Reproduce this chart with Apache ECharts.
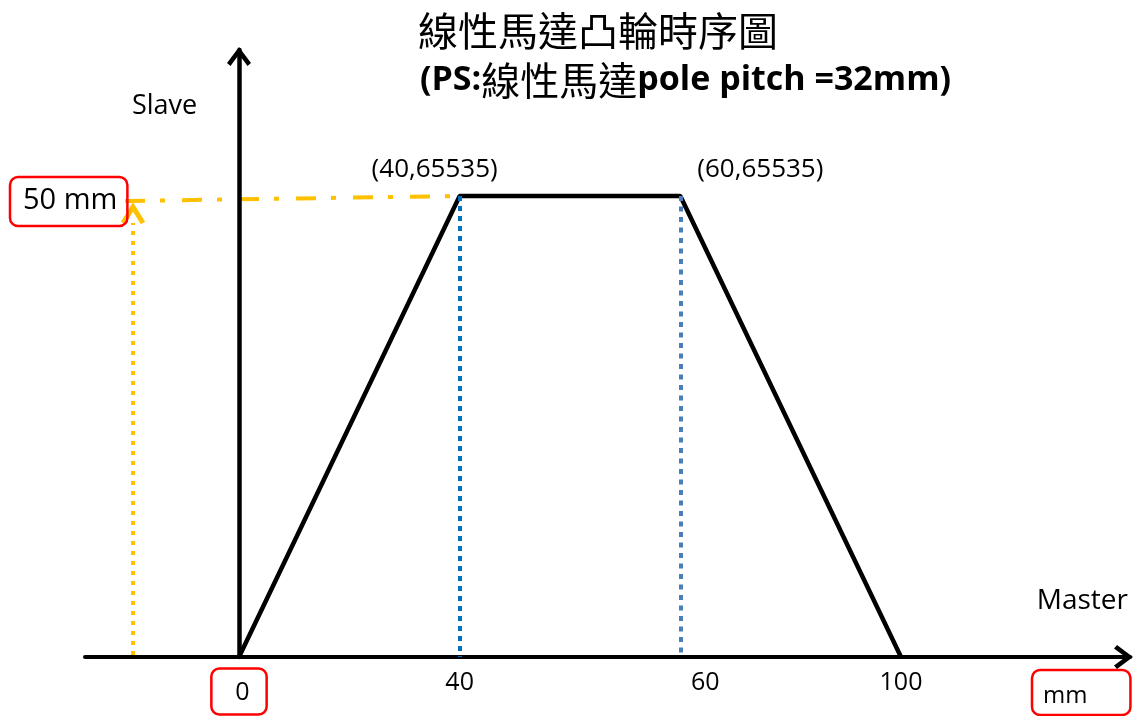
<!DOCTYPE html>
<html><head><meta charset="utf-8">
<script src="https://cdn.jsdelivr.net/npm/echarts@6/dist/echarts.min.js"></script>
<style>html,body{margin:0;padding:0;background:#fff}#c{width:1136px;height:716px}</style>
</head><body><div id="c"></div>
<script>
// ---- data ----
const masterTicks = ['0', '40', '60', '100'];
const slaveValues = [0, 65535, 65535, 0];
const labeledPoints = [1, 2];
const titleText = '線性馬達凸輪時序圖';
const subtitleParts = ['(PS:', '線性馬達', 'pole pitch =32mm)'];
const slaveName = 'Slave';
const masterName = 'Master';
const slaveUnit = '50 mm';
const masterUnit = 'mm';

// ---- style ----
const FONT = '"Open Sans", sans-serif';
const CJK = '"Noto Sans CJK TC", sans-serif';
const chevron = 'path://M12,0 L24,16 L20.5,19 L12,7.5 L3.5,19 L0,16 Z';
const Y_MAX = 86290;

const chart = echarts.init(document.getElementById('c'), null, {renderer: 'canvas'});

const axisArrow = {
  symbol: ['none', chevron],
  symbolSize: [24, 19],
  symbolOffset: [0, -6.5]
};

chart.setOption({
  animation: false,
  backgroundColor: '#fff',
  title: [
    {text: titleText, left: 418, top: 9, padding: 0,
     textStyle: {fontFamily: CJK, fontSize: 40, fontWeight: 'normal', color: '#000', lineHeight: 44}},
    {text: '{a|' + subtitleParts[0] + '}{b|' + subtitleParts[1] + '}{a|' + subtitleParts[2] + '}',
     left: 420, top: 58, padding: 0,
     textStyle: {rich: {
       a: {fontFamily: FONT, fontSize: 34, fontWeight: 'bold', color: '#000', lineHeight: 44},
       b: {fontFamily: CJK, fontSize: 39, fontWeight: 'normal', color: '#000', lineHeight: 44}
     }}}
  ],
  grid: [
    {left: 239, right: 235, top: 50, bottom: 59},
    {left: 85, right: 6, top: 50, bottom: 59}
  ],
  xAxis: [
    {type: 'category', gridIndex: 0, data: masterTicks, boundaryGap: false,
     axisLine: {show: false}, axisTick: {show: false}, splitLine: {show: false},
     axisLabel: {margin: 13, fontSize: 25, fontFamily: FONT, color: '#000',
       formatter: (v, i) => i === 0 ? '{sp| }\n{box|' + v + '}'
                         : (i === 2 ? '{sh|' + v + '}' : '{p|' + v + '}'),
       rich: {
         sp: {fontSize: 1, lineHeight: 9},
         box: {fontSize: 25, fontFamily: FONT, color: '#000', lineHeight: 25,
               borderColor: '#FF0000', borderWidth: 2.5, borderRadius: 8, padding: [12, 17, 9, 24]},
         p: {fontSize: 25, fontFamily: FONT, color: '#000', lineHeight: 25},
         sh: {fontSize: 25, fontFamily: FONT, color: '#000', lineHeight: 25, padding: [0, 0, 0, 50]}
       }}},
    {type: 'value', gridIndex: 1, min: 0, max: 1,
     axisLine: Object.assign({show: true, onZero: false, lineStyle: {color: '#000', width: 4}}, axisArrow),
     axisTick: {show: false}, axisLabel: {show: false}, splitLine: {show: false}}
  ],
  yAxis: [
    {type: 'value', gridIndex: 0, min: 0, max: Y_MAX,
     axisLine: Object.assign({show: true, lineStyle: {color: '#000', width: 4.5}}, axisArrow),
     axisTick: {show: false}, axisLabel: {show: false}, splitLine: {show: false}},
    {type: 'value', gridIndex: 1, show: false, min: 0, max: 1}
  ],
  series: [{
    type: 'line',
    xAxisIndex: 0, yAxisIndex: 0,
    data: slaveValues.map((v, i) => labeledPoints.includes(i)
      ? {value: v, label: {show: true, offset: i === labeledPoints[0] ? [-25, 0] : [80, 0]}}
      : v),
    symbol: 'circle', symbolSize: 2, showSymbol: true,
    itemStyle: {color: '#000'},
    lineStyle: {color: '#000', width: 4.5},
    z: 3,
    label: {show: false, position: 'top', distance: 12, fontSize: 26, fontFamily: FONT, color: '#000',
      formatter: p => '(' + masterTicks[p.dataIndex] + ',' + p.value + ')'},
    markLine: {
      silent: true, symbol: ['none', 'none'], label: {show: false}, animation: false,
      data: [
        [{coord: [masterTicks[1], slaveValues[1]], lineStyle: {color: '#0070C0', width: 4, type: [5, 5]}},
         {coord: [masterTicks[1], 0]}],
        [{coord: [masterTicks[2], slaveValues[2]], lineStyle: {color: '#4A7EBB', width: 4, type: [5, 5.5]}},
         {coord: [masterTicks[2], 0]}]
      ]
    }
  }]
});

// annotation for the 50 mm = 65535 mapping, placed via the chart's own scale
const pTop = chart.convertToPixel({xAxisIndex: 0, yAxisIndex: 0}, [labeledPoints[0], slaveValues[labeledPoints[0]]]);
const pZero = chart.convertToPixel({xAxisIndex: 0, yAxisIndex: 0}, [0, 0]);
const annX = 133;
const yellow = '#FFC000';

chart.setOption({
  graphic: [
    {type: 'line', silent: true, shape: {x1: annX, y1: pZero[1] - 2, x2: annX, y2: pTop[1] + 27},
     style: {stroke: yellow, lineWidth: 4, lineDash: [4, 6]}},
    {type: 'polyline', silent: true,
     shape: {points: [[annX - 10, pTop[1] + 27], [annX, pTop[1] + 11], [annX + 10, pTop[1] + 27]]},
     style: {stroke: yellow, lineWidth: 5, fill: null, lineJoin: 'miter'}},
    {type: 'line', silent: true, shape: {x1: 125, y1: pTop[1] + 5, x2: pTop[0], y2: pTop[1]},
     style: {stroke: yellow, lineWidth: 4, lineDash: [20, 15, 5, 17]}},
    {type: 'text', silent: true, x: 132, y: 106,
     style: {text: slaveName, fontSize: 27, fontFamily: FONT, fill: '#000', align: 'left', verticalAlign: 'middle'}},
    {type: 'text', silent: true, x: 1128, y: 601,
     style: {text: masterName, fontSize: 28, fontFamily: FONT, fill: '#000', align: 'right', verticalAlign: 'middle'}},
    {type: 'text', silent: true, x: 10, y: 177,
     style: {text: slaveUnit, fontSize: 29, fontFamily: FONT, fill: '#000', lineHeight: 30,
             align: 'left', verticalAlign: 'top',
             padding: [9, 10, 10, 13], borderColor: '#FF0000', borderWidth: 2.5, borderRadius: 8}},
    {type: 'text', silent: true, x: 1032, y: 670,
     style: {text: masterUnit, fontSize: 24, fontFamily: FONT, fill: '#000', lineHeight: 24,
             align: 'left', verticalAlign: 'top',
             padding: [14, 43, 7, 11], borderColor: '#FF0000', borderWidth: 2.5, borderRadius: 8}}
  ]
});
</script>
</body></html>
